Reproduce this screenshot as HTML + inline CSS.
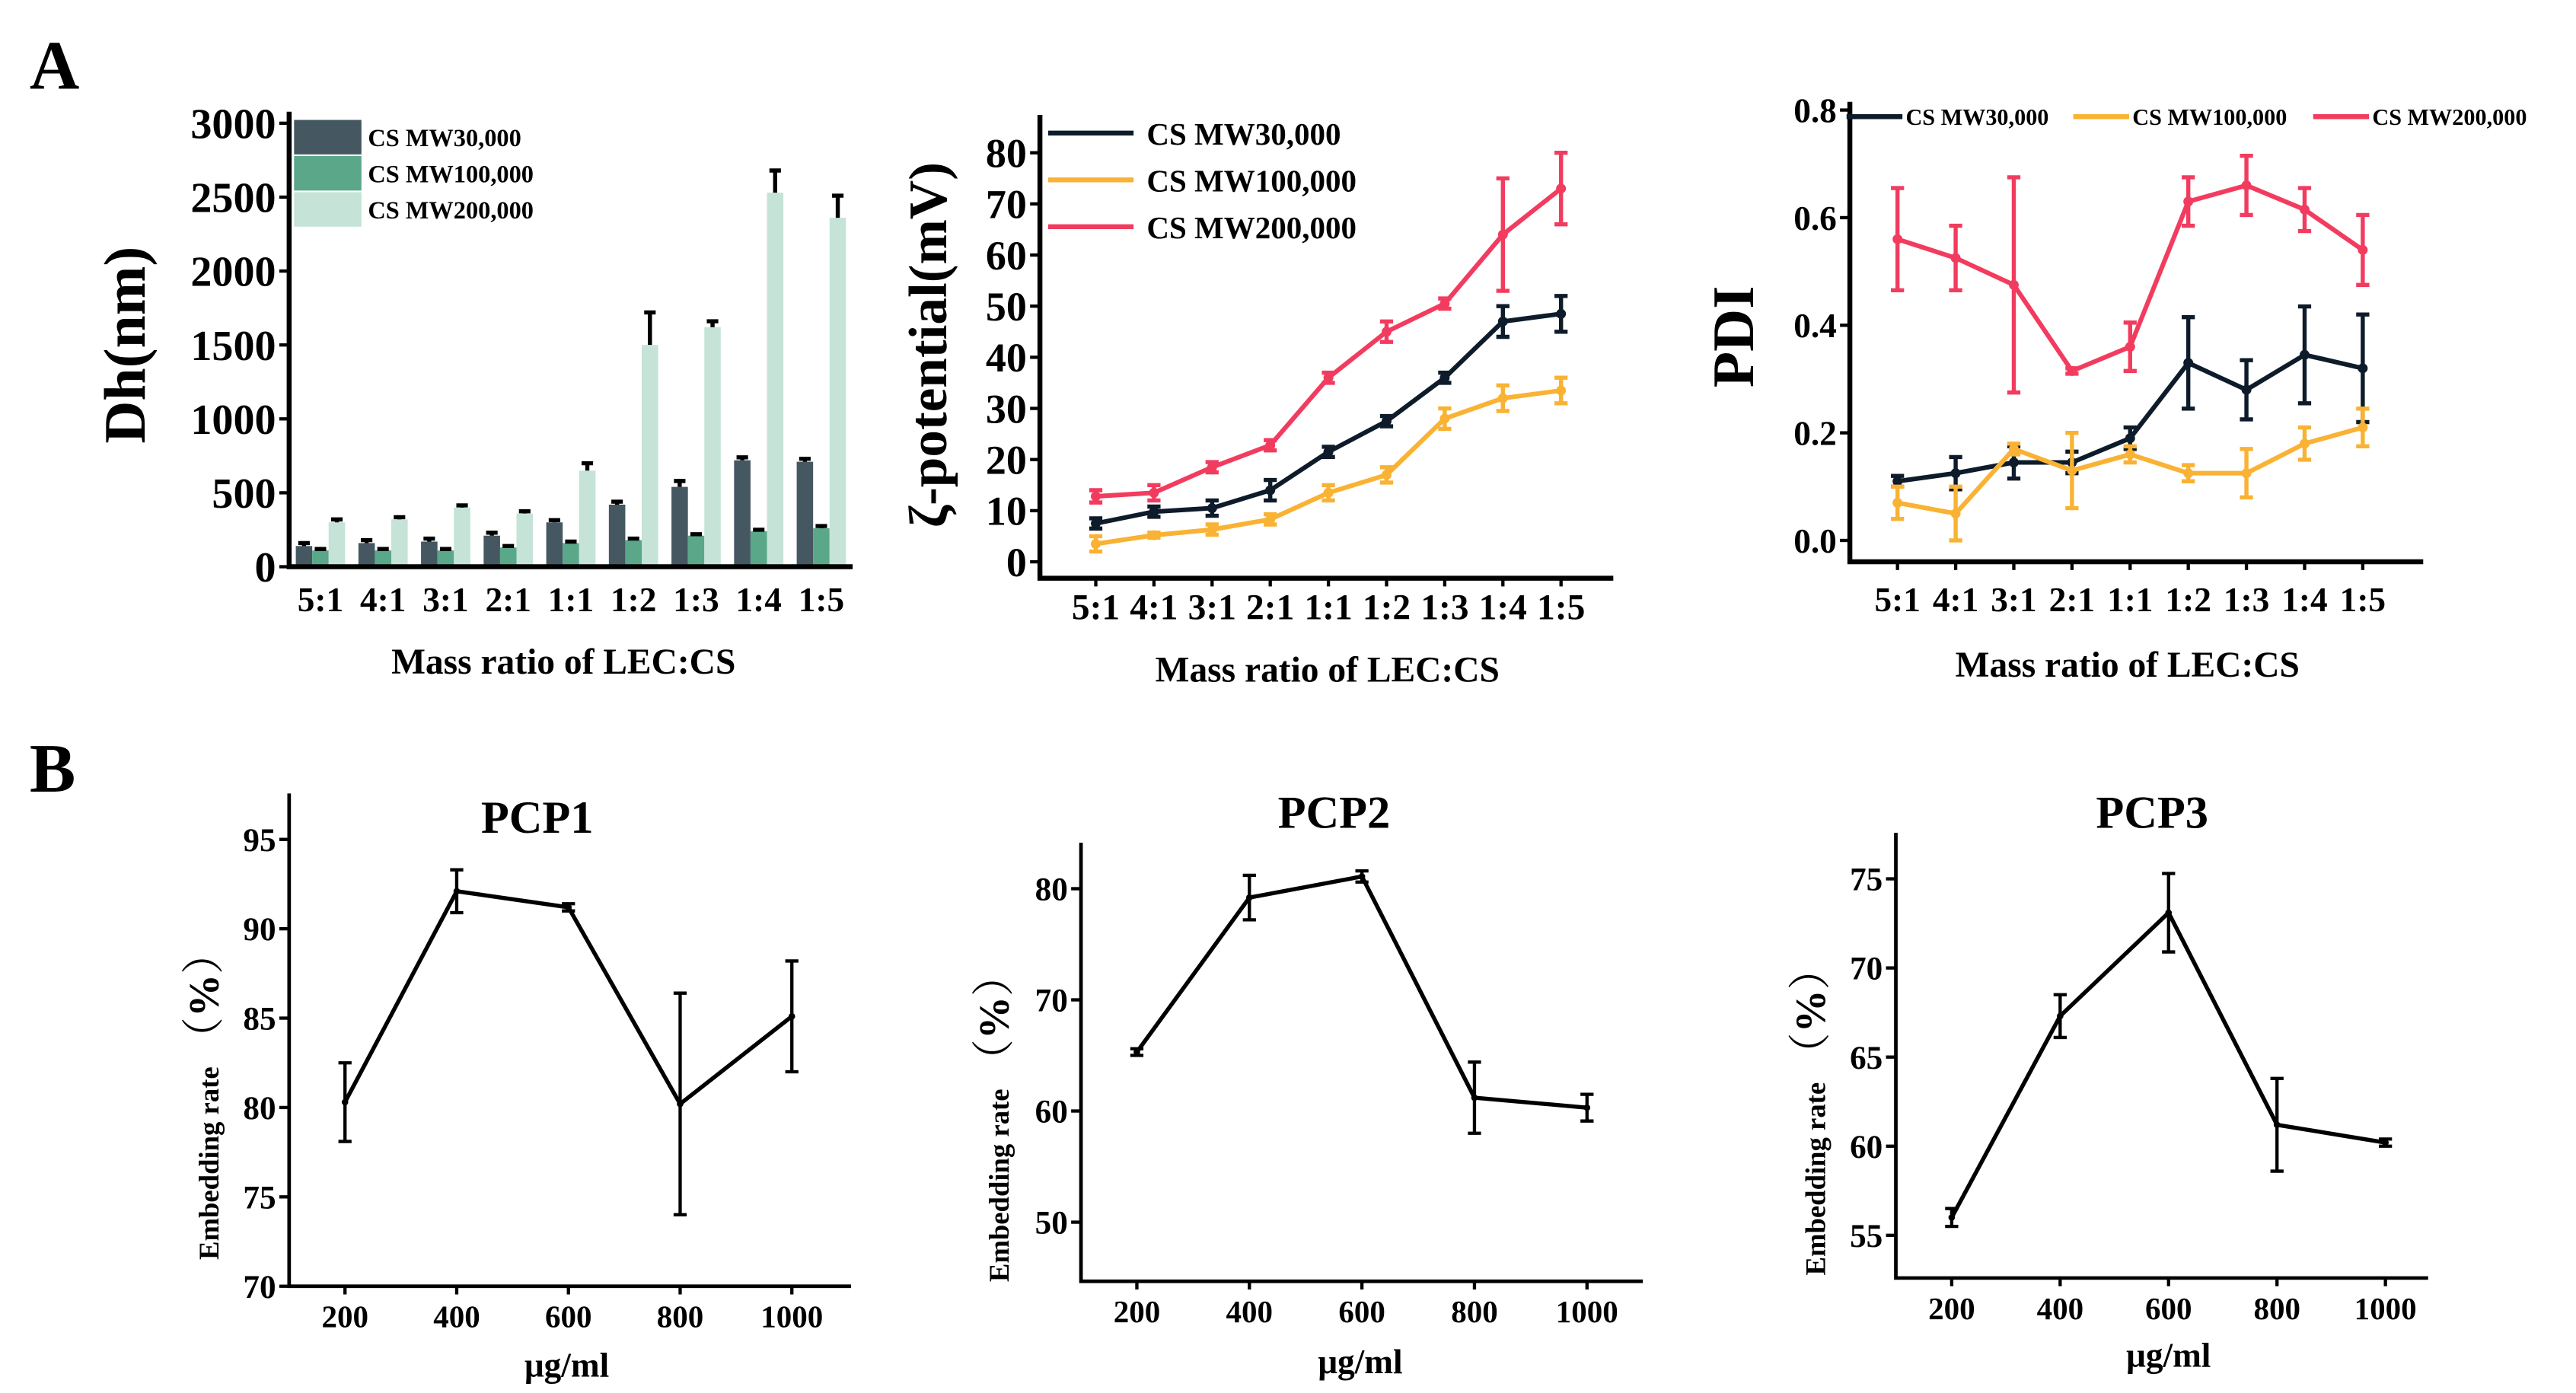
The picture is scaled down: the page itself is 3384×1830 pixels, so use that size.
<!DOCTYPE html>
<html><head><meta charset="utf-8"><style>
html,body{margin:0;padding:0;background:#fff;}
svg{display:block;font-family:"Liberation Serif","Noto Serif CJK SC",serif;font-weight:bold;}
</style></head><body>
<svg id="fig" width="3384" height="1830" viewBox="0 0 1568 848" preserveAspectRatio="none" xmlns="http://www.w3.org/2000/svg">
<text x="18" y="54" font-size="42">A</text>
<text x="18" y="482" font-size="42">B</text>
</svg>
<script>
const ratios=["5:1","4:1","3:1","2:1","1:1","1:2","1:3","1:4","1:5"];
const seriesNames=["CS MW30,000","CS MW100,000","CS MW200,000"];
const dhMW30=[140,160,170,210,300,420,540,720,710];
const dhMW30Err=[20,20,20,20,15,20,40,20,20];
const dhMW100=[110,110,110,130,160,180,210,240,260];
const dhMW100Err=[10,10,10,10,10,10,10,10,15];
const dhMW200=[300,320,400,360,650,1500,1620,2530,2360];
const dhMW200Err=[20,15,15,15,50,220,40,150,150];
const dhTicks=[0,500,1000,1500,2000,2500,3000];
const zMW30=[7.5,9.8,10.5,14,21.5,27.5,36,47,48.5];
const zMW30Err=[1,1,1.5,2,1,1,1,3,3.5];
const zMW100=[3.5,5.2,6.3,8.3,13.5,17,28,32,33.5];
const zMW100Err=[1.5,0.5,1,1,1.5,1.5,2,2.5,2.5];
const zMW200=[12.8,13.5,18.5,22.8,36,45,50.5,64,73];
const zMW200Err=[1.2,1.5,1,1,1,2,1,11,7];
const zTicks=[0,10,20,30,40,50,60,70,80];
const pdiMW30=[0.11,0.125,0.145,0.145,0.19,0.33,0.28,0.345,0.32];
const pdiMW30Err=[0.01,0.03,0.03,0.02,0.02,0.085,0.055,0.09,0.1];
const pdiMW100=[0.07,0.05,0.17,0.13,0.16,0.125,0.125,0.18,0.21];
const pdiMW100Err=[0.03,0.05,0.01,0.07,0.015,0.015,0.045,0.03,0.035];
const pdiMW200=[0.56,0.525,0.475,0.315,0.36,0.63,0.66,0.615,0.54];
const pdiMW200Err=[0.095,0.06,0.2,0.005,0.045,0.045,0.055,0.04,0.065];
const pdiTicks=[0,0.2,0.4,0.6,0.8];
const conc=[200,400,600,800,1000];
const pcp1=[80.3,92.1,91.2,80.2,85.1];
const pcp1Err=[2.2,1.2,0.2,6.2,3.1];
const pcp1Ticks=[70,75,80,85,90,95];
const pcp2=[65.3,79.2,81.1,61.2,60.3];
const pcp2Err=[0.3,2,0.5,3.2,1.2];
const pcp2Ticks=[50,60,70,80];
const pcp3=[56,67.3,73.1,61.2,60.2];
const pcp3Err=[0.5,1.2,2.2,2.6,0.2];
const pcp3Ticks=[55,60,65,70,75];

const svg=document.getElementById('fig');
const NS="http://www.w3.org/2000/svg";
function mk(tag,attrs,parent){const e=document.createElementNS(NS,tag);for(const k in attrs)e.setAttribute(k,attrs[k]);(parent||svg).appendChild(e);return e;}
function txt(x,y,s,size,anchor,parent){const t=mk('text',{x:x,y:y,'font-size':size,'text-anchor':anchor||'middle'},parent);t.textContent=s;return t;}
function lin(d0,d1,r0,r1){return v=>r0+(v-d0)/(d1-d0)*(r1-r0);}
function axes(g,x0,yTop,xEnd,yAx,w){
  const a=mk('path',{d:`M${x0},${yTop}V${yAx}H${xEnd}`,stroke:'#000','stroke-width':w,fill:'none'},g);
  
  
}
function yTicksDraw(g,ticks,y,x0,size,fmt){
  ticks.forEach(t=>{
    const tk=mk('line',{x1:x0-6,x2:x0,y1:y(t),y2:y(t),stroke:'#000','stroke-width':2},g);
    
    
    const l=txt(x0-8,y(t)+size*0.35,fmt?fmt(t):String(t),size,'end',g);
    
    
  });
}
function xLabels(g,cats,x,yAx,yl,size){
  cats.forEach((c,i)=>{
    const tk=mk('line',{x1:x(i),x2:x(i),y1:yAx,y2:yAx+5,stroke:'#000','stroke-width':2},g);
    
    
    const l=txt(x(i),yl,String(c),size,'middle',g);
    
    
  });
}
function errBar(g,xc,y,v,e,col,cap,w){
  const p=mk('path',{d:`M${xc},${y(v-e)}V${y(v+e)}M${xc-cap},${y(v+e)}h${2*cap}M${xc-cap},${y(v-e)}h${2*cap}`,stroke:col,'stroke-width':w,fill:'none'},g);
  
  
}
function rotTitle(g,x,y,s,size){
  const t=txt(x,y,s,size,'middle',g);t.setAttribute('transform',`rotate(-90 ${x} ${y})`);
  
  
  return t;
}
function xTitle(g,x,y,s,size){const t=txt(x,y,s,size,'middle',g);
  
  }

/* Chart 1: Dh bars */
(function(){
  const g=mk('g',{});
  
  
  const x0=176,xEnd=519,yAx=345;
  const y=lin(0,3000,345,75);
  const step=(xEnd-x0)/9;
  const xc=i=>x0+step*(i+0.5);
  const cols=['#455760','#5aa78a','#c5e3d6'];
  const vals=[dhMW30,dhMW100,dhMW200],errs=[dhMW30Err,dhMW100Err,dhMW200Err];
  vals.forEach((arr,s)=>{arr.forEach((v,i)=>{
    const bx=xc(i)-15+s*10;
    const r=mk('rect',{x:bx,y:y(v),width:10,height:yAx-y(v),fill:cols[s]},g);
    
    
    const e=errs[s][i];
    const p=mk('path',{d:`M${bx+5},${y(v)}V${y(v+e)}M${bx+1.5},${y(v+e)}h7`,stroke:'#000','stroke-width':2.5,fill:'none'},g);
    
    
  });});
  axes(g,x0,68,xEnd,yAx,3);
  yTicksDraw(g,dhTicks,y,x0,26);
  ratios.forEach((c,i)=>{const l=txt(xc(i),372,c,21,'middle',g);
    
    });
  rotTitle(g,88,210,'Dh(nm)',36);
  xTitle(g,343,410,'Mass ratio of LEC:CS',22);
  seriesNames.forEach((n,s)=>{
    const r=mk('rect',{x:179,y:73+s*22,width:41,height:21,fill:cols[s]},g);
    
    
    const t=txt(224,89+s*22,n,15,'start',g);
    
    
  });
})();

function lineChart(cfg){
  const g=mk('g',{});
  
  
  const y=lin(cfg.d0,cfg.d1,cfg.r0,cfg.r1);
  const x=i=>cfg.xFirst+i*cfg.step;
  cfg.series.forEach((arr,s)=>{
    const col=cfg.cols[s];
    arr.forEach((v,i)=>errBar(g,x(i),y,v,cfg.errs[s][i],col,cfg.cap,cfg.ew));
    const pl=mk('polyline',{points:arr.map((v,i)=>x(i)+','+y(v)).join(' '),stroke:col,'stroke-width':cfg.lw,fill:'none','stroke-linejoin':'round'},g);
    
    
    arr.forEach((v,i)=>{const c=mk('circle',{cx:x(i),cy:y(v),r:cfg.mr,fill:col},g);
      
      });
  });
  axes(g,cfg.x0,cfg.yTop,cfg.xEnd,cfg.yAx,cfg.aw);
  yTicksDraw(g,cfg.ticks,y,cfg.x0,cfg.tfs,cfg.fmt);
  xLabels(g,cfg.cats,x,cfg.yAx,cfg.xly,cfg.xfs);
  return {g,y,x};
}

/* Chart 2: zeta potential */
(function(){
  const cols=['#0d1b2a','#f9b233','#f23c5f'];
  const {g}=lineChart({name:'zeta-potential-chart',d0:0,d1:80,r0:342,r1:93,xFirst:667,step:35.4,
    series:[zMW30,zMW100,zMW200],errs:[zMW30Err,zMW100Err,zMW200Err],cols,cap:4,ew:2.5,lw:2.8,mr:3,
    x0:633,yTop:70,xEnd:982,yAx:352,aw:3,ticks:zTicks,tfs:25,cats:ratios,xly:377,xfs:22});
  rotTitle(g,576,210,'ζ-potential(mV)',33);
  xTitle(g,808,415,'Mass ratio of LEC:CS',22);
  seriesNames.forEach((n,s)=>{
    const l=mk('line',{x1:638,x2:690,y1:81+s*28.5,y2:81+s*28.5,stroke:cols[s],'stroke-width':3},g);
    
    
    const t=txt(698,88+s*28.5,n,19,'start',g);
    
    
  });
})();

/* Chart 3: PDI */
(function(){
  const cols=['#0d1b2a','#f9b233','#f23c5f'];
  const {g}=lineChart({name:'pdi-chart',d0:0,d1:0.8,r0:329,r1:67,xFirst:1155,step:35.4,
    series:[pdiMW30,pdiMW100,pdiMW200],errs:[pdiMW30Err,pdiMW100Err,pdiMW200Err],cols,cap:4,ew:2.5,lw:2.8,mr:3,
    x0:1126,yTop:62,xEnd:1475,yAx:342,aw:3,ticks:pdiTicks,tfs:21,fmt:t=>t.toFixed(1),cats:ratios,xly:372,xfs:21});
  rotTitle(g,1067,205,'PDI',36);
  xTitle(g,1295,412,'Mass ratio of LEC:CS',22);
  const lx=[1124,1262,1408];
  seriesNames.forEach((n,s)=>{
    const l=mk('line',{x1:lx[s],x2:lx[s]+34,y1:71,y2:71,stroke:cols[s],'stroke-width':3},g);
    
    
    const t=txt(lx[s]+36,76,n,14,'start',g);
    
    
  });
})();

/* Panel B charts */
function pcpChart(name,title,data,err,ticks,d0,d1,r0,r1,x0,xEnd,yAx,xFirst,step,titleX,titleY,unitX,unitY,ytX){
  const {g}=lineChart({name,d0,d1,r0,r1,xFirst,step,series:[data],errs:[err],cols:['#000'],cap:4,ew:2,lw:2.5,mr:2,
    x0,yTop:r1-28,xEnd,yAx,aw:2.2,ticks,tfs:20,cats:conc,xly:yAx+25,xfs:19});
  const t=txt(titleX,titleY,title,28,'middle',g);
  
  
  xTitle(g,unitX,unitY,'μg/ml',21);
  const cy=(r1+yAx)/2+20;
  const yt=mk('text',{x:ytX,y:cy,'text-anchor':'middle',transform:`rotate(-90 ${ytX} ${cy})`},g);
  
  
  const s1=mk('tspan',{'font-size':17},yt);s1.textContent='Embedding rate ';
  const s2=mk('tspan',{'font-size':26,'font-weight':'normal'},yt);s2.textContent='（';
  const s3=mk('tspan',{'font-size':26},yt);s3.textContent='%';
  const s4=mk('tspan',{'font-size':26,'font-weight':'normal'},yt);s4.textContent='）';
}
pcpChart('pcp1-chart','PCP1',pcp1,pcp1Err,pcp1Ticks,70,95,783,511,176,518,783,210,68,327,507,345,838,133);
pcpChart('pcp2-chart','PCP2',pcp2,pcp2Err,pcp2Ticks,50,80,744,541,658,1000,780,692,68.5,812,504,828,836,614);
pcpChart('pcp3-chart','PCP3',pcp3,pcp3Err,pcp3Ticks,55,75,752,535,1154,1478,778,1188,66,1310,504,1320,832,1111);
</script>
</body></html>
